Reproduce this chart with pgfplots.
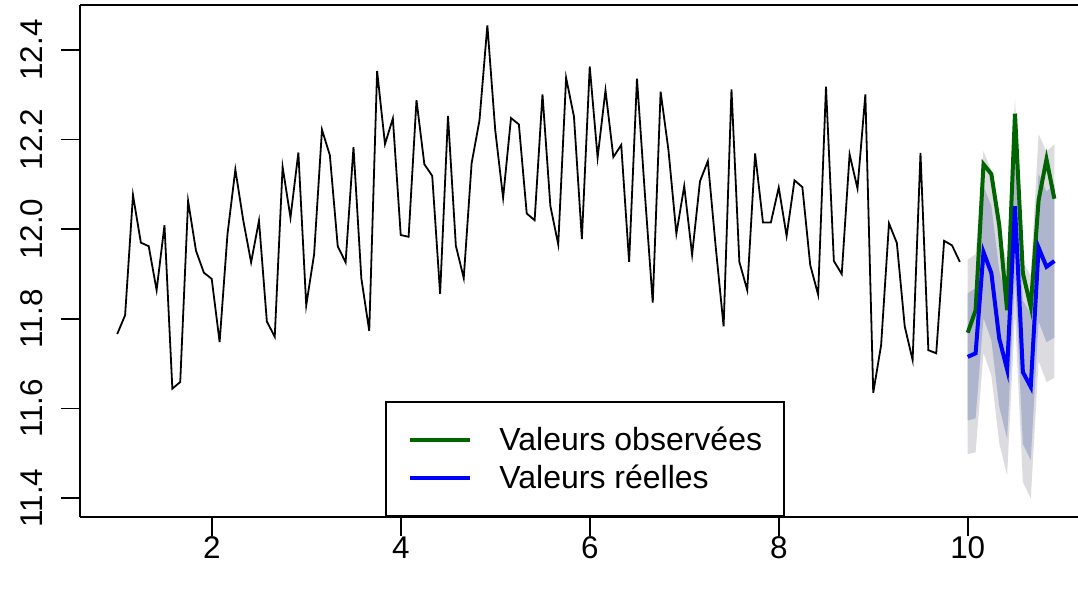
\documentclass[border=0pt]{standalone}
\usepackage{pgfplots}
\pgfplotsset{compat=1.18}
\usepackage{fontspec}
\setmainfont{Liberation Sans}
\definecolor{bandA}{RGB}{219,219,224}
\definecolor{bandB}{RGB}{176,181,206}
\definecolor{dgreen}{RGB}{0,100,0}
\definecolor{rblue}{RGB}{0,0,255}

\pgfplotstableread{
x y
1.0000 11.766
1.0833 11.808
1.1667 12.076
1.2500 11.970
1.3333 11.962
1.4167 11.864
1.5000 12.009
1.5833 11.644
1.6667 11.659
1.7500 12.063
1.8333 11.952
1.9167 11.903
2.0000 11.889
2.0833 11.748
2.1667 11.989
2.2500 12.133
2.3333 12.020
2.4167 11.926
2.5000 12.019
2.5833 11.794
2.6667 11.760
2.7500 12.139
2.8333 12.026
2.9167 12.171
3.0000 11.830
3.0833 11.944
3.1667 12.222
3.2500 12.165
3.3333 11.962
3.4167 11.926
3.5000 12.183
3.5833 11.890
3.6667 11.773
3.7500 12.353
3.8333 12.190
3.9167 12.247
4.0000 11.987
4.0833 11.983
4.1667 12.288
4.2500 12.145
4.3333 12.119
4.4167 11.856
4.5000 12.253
4.5833 11.963
4.6667 11.891
4.7500 12.147
4.8333 12.243
4.9167 12.455
5.0000 12.221
5.0833 12.070
5.1667 12.248
5.2500 12.234
5.3333 12.035
5.4167 12.020
5.5000 12.301
5.5833 12.052
5.6667 11.966
5.7500 12.338
5.8333 12.251
5.9167 11.978
6.0000 12.363
6.0833 12.160
6.1667 12.310
6.2500 12.161
6.3333 12.188
6.4167 11.927
6.5000 12.336
6.5833 12.080
6.6667 11.836
6.7500 12.307
6.8333 12.176
6.9167 11.990
7.0000 12.096
7.0833 11.943
7.1667 12.107
7.2500 12.152
7.3333 11.960
7.4167 11.783
7.5000 12.312
7.5833 11.927
7.6667 11.864
7.7500 12.169
7.8333 12.015
7.9167 12.015
8.0000 12.093
8.0833 11.985
8.1667 12.109
8.2500 12.094
8.3333 11.920
8.4167 11.854
8.5000 12.318
8.5833 11.929
8.6667 11.900
8.7500 12.167
8.8333 12.091
8.9167 12.301
9.0000 11.635
9.0833 11.741
9.1667 12.013
9.2500 11.969
9.3333 11.783
9.4167 11.708
9.5000 12.170
9.5833 11.730
9.6667 11.723
9.7500 11.974
9.8333 11.964
9.9167 11.927
}\histdata

\pgfplotstableread{
x obs reel
10.0000 11.769 11.715
10.0833 11.819 11.723
10.1667 12.145 11.949
10.2500 12.123 11.902
10.3333 12.009 11.756
10.4167 11.819 11.687
10.5000 12.258 12.051
10.5833 11.902 11.681
10.6667 11.827 11.648
10.7500 12.065 11.959
10.8333 12.156 11.916
10.9167 12.068 11.929
}\fcdata

\begin{document}
\begin{tikzpicture}
\begin{axis}[
  scale only axis, width=499pt, height=256pt,
  xmin=0.606, xmax=11.167, ymin=11.3576, ymax=12.5004,
  axis x line*=bottom, axis y line*=left,
  axis line style={line width=0.9pt, black},
  clip=false,
  tick align=outside, major tick length=9.5pt,
  every tick/.style={black, line width=0.9pt},
  xtick={2,4,6,8,10},
  ytick={11.4,11.6,11.8,12.0,12.2,12.4},
  tick label style={font=\fontsize{15.7}{18}\selectfont},
  /pgf/number format/assume math mode=true,
  yticklabel style={xshift=-9pt, rotate=90, anchor=south, inner sep=0pt,
    /pgf/number format/.cd, fixed, fixed zerofill, precision=1},
  xticklabel style={anchor=north, inner sep=0pt},
  legend style={at={(axis description cs:0.506,0)}, anchor=south,
    draw=black, line width=0.9pt, fill=white,
    inner xsep=11pt, inner ysep=12.4pt, row sep=5.6pt,
    font=\fontsize{16}{18}\selectfont,
    nodes={inner sep=0pt},
    /tikz/every odd column/.append style={column sep=13.8pt}},
  legend cell align=left,
  legend image code/.code={\draw[#1] (0pt,0pt) -- (30pt,0pt);},
]
\addplot[fill=bandA, draw=none, forget plot] coordinates {
(10.0000,11.932) (10.0833,11.944) (10.1667,12.174) (10.2500,12.131)
(10.3333,11.989) (10.4167,11.924) (10.5000,12.292) (10.5833,11.926)
(10.6667,11.897) (10.7500,12.212) (10.8333,12.173) (10.9167,12.190)
(10.9167,11.668) (10.8333,11.659) (10.7500,11.706) (10.6667,11.399)
(10.5833,11.436) (10.5000,11.810) (10.4167,11.450) (10.3333,11.523)
(10.2500,11.673) (10.1667,11.724) (10.0833,11.502) (10.0000,11.498)
} -- cycle;
\addplot[fill=bandB, draw=none, forget plot] coordinates {
(10.0000,11.857) (10.0833,11.868) (10.1667,12.096) (10.2500,12.052)
(10.3333,11.908) (10.4167,11.842) (10.5000,12.209) (10.5833,11.841)
(10.6667,11.811) (10.7500,12.124) (10.8333,12.084) (10.9167,12.100)
(10.9167,11.758) (10.8333,11.748) (10.7500,11.794) (10.6667,11.485)
(10.5833,11.521) (10.5000,11.893) (10.4167,11.532) (10.3333,11.604)
(10.2500,11.752) (10.1667,11.802) (10.0833,11.578) (10.0000,11.573)
} -- cycle;
\addplot[black, line width=0.9pt, forget plot] table[x=x, y=y] {\histdata};
\addplot[dgreen, line width=2pt] table[x=x, y=obs] {\fcdata};
\addlegendentry{Valeurs observées}
\addplot[rblue, line width=2pt] table[x=x, y=reel] {\fcdata};
\addlegendentry{Valeurs réelles}
\draw[line width=0.9pt, black] (rel axis cs:0,1) -- (rel axis cs:1,1);
\coordinate (SW) at (rel axis cs:0,0);
\coordinate (NE) at (rel axis cs:1,1);
\end{axis}
\pgfresetboundingbox
\path ([xshift=-40pt, yshift=-36pt]SW) rectangle ([yshift=2.5pt]NE);
\end{tikzpicture}
\end{document}
